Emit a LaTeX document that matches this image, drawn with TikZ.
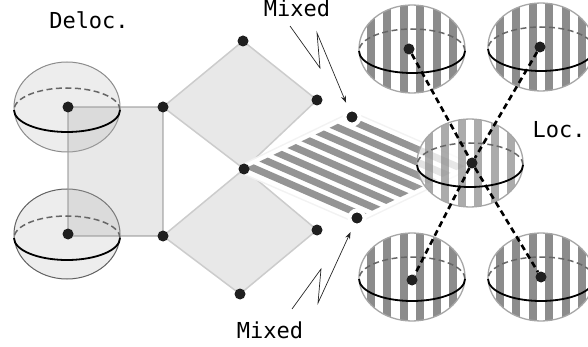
\documentclass[tikz,border=0pt]{standalone}
\usepackage{fontspec}
\setmonofont{DejaVu Sans Mono}
\usetikzlibrary{calc,arrows.meta,fadings}
\tikzfading[name=faderight, left color=transparent!100, right color=transparent!70]
\newcommand\myEquator[2]{%
  \draw[black!60,line width=1.5pt,dash pattern=on 6pt off 3.5pt] (#1+53,#2-2) arc[start angle=0,end angle=180,x radius=53,y radius=22];
  \draw[black,line width=1.8pt] (#1-53,#2-2) arc[start angle=180,end angle=360,x radius=53,y radius=22];
}
\newcommand\myLocBall[3]{%
  \begin{scope}
    \clip (#1,#2) ellipse[x radius=53,y radius=44];
    \fill[white,fill opacity=#3] (#1-60,#2-50) rectangle (#1+60,#2+50);
    \foreach \k in {-4,...,3}
      \fill[black!45,fill opacity=#3] ({#1+8.25+16.5*(\k)-4},#2-50) rectangle ++(8,100);
  \end{scope}
  \draw[black!35,line width=1.3pt] (#1,#2) ellipse[x radius=53,y radius=44];
  \myEquator{#1}{#2}
}
\begin{document}
\begin{tikzpicture}[x=1pt,y=1pt,
  dot/.style={circle,fill=black!88,inner sep=0pt,minimum size=11pt},
  mixdot/.style={circle,fill=black!88,draw=white,line width=4pt,inner sep=0pt,minimum size=15pt},
  lbl/.style={font=\ttfamily\fontsize{22}{26}\selectfont,inner sep=0pt,anchor=base},
  diam/.style={fill=black!9,draw=black!20,line width=1.5pt,line join=round},
  zig/.style={black!85,line width=0.7pt,-{Stealth[length=7pt,width=5pt]}},
  link/.style={black,line width=2.6pt,dash pattern=on 6pt off 4pt}]
\clip (0,0) rectangle (588,-347);
% positions
\coordinate (cL1) at (68,-107);
\coordinate (cL2) at (68,-234);
\coordinate (cR1) at (163,-107);
\coordinate (cR2) at (163,-236);
\coordinate (cT) at (243,-41);
\coordinate (cA) at (244,-169);
\coordinate (cBo) at (240,-294);
\coordinate (cE1) at (317,-100);
\coordinate (cE2) at (317,-230);
\coordinate (cB) at (352,-117);
\coordinate (cD) at (357,-218);
\coordinate (cC) at ($(cB)+(cD)-(cA)$);
\coordinate (cLoc) at (472,-163);
\coordinate (cTL) at (409,-49);
\coordinate (cTR) at (540,-47);
\coordinate (cBL) at (412,-280);
\coordinate (cBR) at (541,-277);
% diamonds
\draw[diam] (cR1) -- (cT) -- (cE1) -- (cA) -- cycle;
\draw[diam] (cR2) -- (cA) -- (cE2) -- (cBo) -- cycle;
% delocalised spheres
\fill[black!7] (67,-107) ellipse[x radius=53,y radius=45];
\fill[black!7] (67,-234) ellipse[x radius=53,y radius=45];
\draw[black!45,line width=1pt] (67,-107) ellipse[x radius=53,y radius=45];
\draw[black!62,line width=1pt] (67,-234) ellipse[x radius=53,y radius=45];
\fill[black!30,fill opacity=0.3] (cL1) rectangle (cR2);
\draw[black!40,draw opacity=0.55,line width=1.5pt] (cL1) rectangle (cR2);
\myEquator{67}{-108}
\myEquator{67}{-236}
% mixed parallelogram
\draw[black!5,line width=11pt,line join=round] (cA) -- (cB) -- (cC) -- (cD) -- cycle;
\filldraw[white,line width=8pt,line join=round] (cA) -- (cB) -- (cC) -- (cD) -- cycle;
\begin{scope}
  \clip (cA) -- (cB) -- (cC) -- (cD) -- cycle;
  \foreach \t in {0.05,0.18,0.31,0.44,0.57,0.70,0.83,0.96}
    \draw[black!42,line width=7pt] ($(cA)!\t!(cB)+(-25,11)$) -- ($(cD)!\t!(cC)+(25,-11)$);
  \fill[white,path fading=faderight] (405,-100) rectangle (475,-235);
\end{scope}
% localised spheres
\myLocBall{412}{-49}{1}
\myLocBall{541}{-47}{1}
\myLocBall{412}{-277}{1}
\myLocBall{541}{-277}{1}
\myLocBall{470}{-163}{0.72}
% dots
\node[dot] (nL1) at (cL1) {};
\node[dot] (nL2) at (cL2) {};
\node[dot] (nR1) at (cR1) {};
\node[dot] (nR2) at (cR2) {};
\node[dot] (nT) at (cT) {};
\node[dot] (nA) at (cA) {};
\node[dot] (nBo) at (cBo) {};
\node[dot] (nE1) at (cE1) {};
\node[dot] (nE2) at (cE2) {};
\node[mixdot] (nB) at (cB) {};
\node[mixdot] (nD) at (cD) {};
\node[dot] (nLoc) at (cLoc) {};
\node[dot] (nTL) at (cTL) {};
\node[dot] (nTR) at (cTR) {};
\node[dot] (nBL) at (cBL) {};
\node[dot] (nBR) at (cBR) {};
% dashed links
\draw[link] (nTL) -- (nLoc) -- (nBR);
\draw[link] (nTR) -- (nLoc) -- (nBL);
% labels
\node[lbl] (tDeloc) at (89,-29) {Deloc.};
\node[lbl] (tLoc) at (559,-138) {Loc.};
\node[lbl] (tMix1) at (297,-17) {Mixed};
\node[lbl] (tMix2) at (270,-338) {Mixed};
% arrows
\coordinate (s1) at (290,-26);
\coordinate (s2) at (292,-309);
\draw[zig,shorten >=6pt] (s1) -- (320,-68) -- (317,-33) -- (nB);
\draw[zig,shorten >=6pt] (s2) -- (321,-269) -- (318,-303) -- (nD);
\end{tikzpicture}
\end{document}
